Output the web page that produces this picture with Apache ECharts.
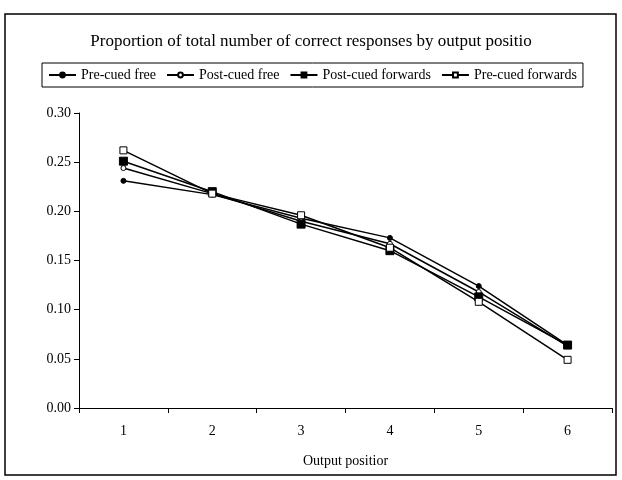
<!DOCTYPE html>
<html>
<head>
<meta charset="utf-8">
<script src="https://cdn.jsdelivr.net/npm/echarts@6/dist/echarts.min.js"></script>
<style>
  html, body { margin: 0; padding: 0; background: #fff; }
  #chart { width: 622px; height: 480px; }
</style>
</head>
<body>
<div id="chart"></div>
<script>
// data
const positions = ['1', '2', '3', '4', '5', '6'];
const preCuedFree = [0.231, 0.217, 0.193, 0.173, 0.124, 0.064];
const postCuedFree = [0.244, 0.218, 0.190, 0.167, 0.118, 0.063];
const postCuedForwards = [0.251, 0.220, 0.187, 0.160, 0.113, 0.064];
const preCuedForwards = [0.262, 0.218, 0.196, 0.163, 0.108, 0.049];

const font = 'Liberation Serif, Times New Roman, serif';

function lineSeries(name, data, symbol, size, fill) {
  return {
    name: name,
    type: 'line',
    data: data,
    symbol: symbol,
    symbolSize: size,
    showAllSymbol: true,
    lineStyle: { color: '#000', width: 1.5 },
    itemStyle: { color: fill, borderColor: '#000', borderWidth: 1 },
    emphasis: { disabled: true },
    animation: false
  };
}

const chart = echarts.init(document.getElementById('chart'));
chart.setOption({
  backgroundColor: '#fff',
  animation: false,
  textStyle: { fontFamily: font, color: '#000' },
  title: {
    text: 'Proportion of total number of correct responses by output positio',
    left: 'center',
    top: 28,
    textStyle: { fontFamily: font, fontSize: 17, fontWeight: 'normal', color: '#000' }
  },
  legend: {
    top: 63,
    left: 42,
    width: 545,
    padding: [5, 6, 5, 6],
    borderColor: '#000',
    borderWidth: 1,
    itemWidth: 27,
    itemHeight: 6,
    itemGap: 10,
    textStyle: { fontFamily: font, fontSize: 14, color: '#000' },
    data: ['Pre-cued free', 'Post-cued free', 'Post-cued forwards', 'Pre-cued forwards']
  },
  grid: { left: 79, right: 10, top: 113, bottom: 72 },
  xAxis: {
    type: 'category',
    data: positions,
    boundaryGap: true,
    name: 'Output positior',
    nameLocation: 'middle',
    nameGap: 46,
    nameTextStyle: { fontFamily: font, fontSize: 14, color: '#000' },
    axisLine: { lineStyle: { color: '#000', width: 1 } },
    axisTick: { show: true, alignWithLabel: false, length: 5, lineStyle: { color: '#000' } },
    axisLabel: { fontFamily: font, fontSize: 14, color: '#000', margin: 16 },
    splitLine: { show: false }
  },
  yAxis: {
    type: 'value',
    min: 0,
    max: 0.30,
    interval: 0.05,
    axisLine: { show: true, lineStyle: { color: '#000', width: 1 } },
    axisTick: { show: true, length: 5, lineStyle: { color: '#000' } },
    axisLabel: {
      fontFamily: font, fontSize: 14, color: '#000', margin: 8,
      formatter: v => v.toFixed(2)
    },
    splitLine: { show: false }
  },
  graphic: [{
    type: 'rect',
    shape: { x: 5, y: 14, width: 611, height: 461 },
    style: { fill: 'none', stroke: '#000', lineWidth: 1.5 },
    silent: true
  }],
  series: [
    lineSeries('Pre-cued free', preCuedFree, 'circle', 5, '#000'),
    lineSeries('Post-cued free', postCuedFree, 'circle', 5, '#fff'),
    lineSeries('Post-cued forwards', postCuedForwards, 'rect', 8, '#000'),
    lineSeries('Pre-cued forwards', preCuedForwards, 'rect', 7, '#fff')
  ]
});
</script>
</body>
</html>
